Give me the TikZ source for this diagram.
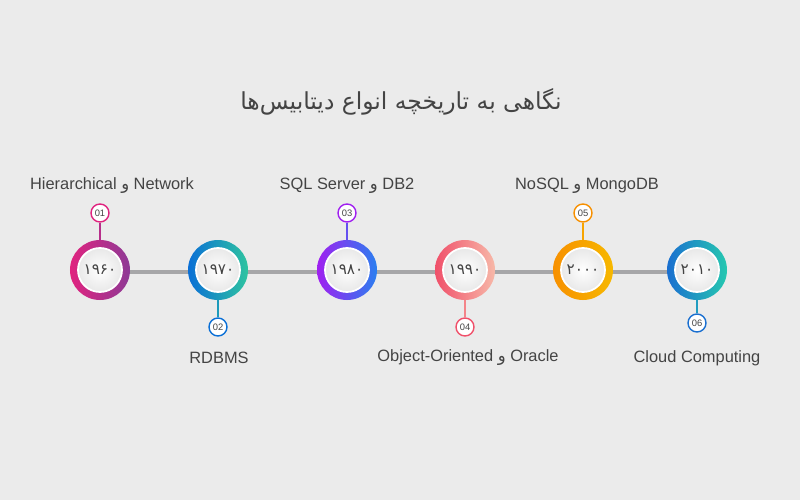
\documentclass[tikz,border=0pt]{standalone}
\usepackage{fontspec}
\setmainfont{Liberation Sans}
\newfontfamily\arabicfont[Script=Arabic]{DejaVu Sans}
\TeXXeTstate=1
\definecolor{bgc}{HTML}{EBEBEB}
\definecolor{txt}{HTML}{444444}
\definecolor{axis}{HTML}{A6A6A8}
\begin{document}
\begin{tikzpicture}[x=0.03cm,y=-0.03cm,
	ring/.style={circle, minimum size=1.8cm, inner sep=0pt},
	disc/.style={circle, minimum size=1.32cm, inner sep=0pt, draw=white, line width=1.5pt, inner color=white, outer color=gray!18, font=\arabicfont\fontsize{13}{13}\selectfont, text=txt},
	badge/.style={circle, minimum size=0.54cm, inner sep=0pt, line width=1.2pt, fill=white, font=\fontsize{8}{8}\selectfont, text=txt},
	lbl/.style={font=\fontsize{14}{16}\selectfont, text=txt}]
\fill[bgc] (0,0) rectangle (800,500);
\useasboundingbox (0,0) rectangle (800,500);

% title
\node[font=\arabicfont\fontsize{20}{22}\selectfont, text=txt] (title) at (401,102) {\beginR نگاهی به تاریخچه انواع دیتابیس‌ها\endR};

% axis
\coordinate (a0) at (100,272);
\coordinate (a1) at (697,272);
\draw[axis, line width=3.5pt] (a0) -- (a1);

% stages
\foreach \x/\yb/\ly/\lx/\ca/\cb/\yr/\nr/\name [count=\i] in {
	100/213/186/112/E0237F/8E3A96/{۱۹۶۰}/01/{Hierarchical {\arabicfont و} Network},
	218/327/358/219/0A6FD6/2EC4A0/{۱۹۷۰}/02/{RDBMS},
	347/213/186/347/A020F0/2A7FF0/{۱۹۸۰}/03/{SQL Server {\arabicfont و} DB2},
	465/327/358/468/F0506A/F7B8A8/{۱۹۹۰}/04/{Object-Oriented {\arabicfont و} Oracle},
	583/213/186/587/F79000/F7B800/{۲۰۰۰}/05/{NoSQL {\arabicfont و} MongoDB},
	697/323/358/697/1A6FD0/25C8B0/{۲۰۱۰}/06/{Cloud Computing}}{
	\definecolor{ca\i}{HTML}{\ca}
	\definecolor{cb\i}{HTML}{\cb}
	\node[badge, draw=ca\i] (b\i) at (\x,\yb) {\nr};
	\node[ring, left color=ca\i, right color=cb\i] (r\i) at (\x,270) {};
	\draw[ca\i!50!cb\i, line width=2.2pt] (b\i) -- (r\i);
	\node[disc] (y\i) at (\x,270) {\yr};
	\node[lbl] (l\i) at (\lx,\ly) {\name};
}
\end{tikzpicture}
\end{document}
